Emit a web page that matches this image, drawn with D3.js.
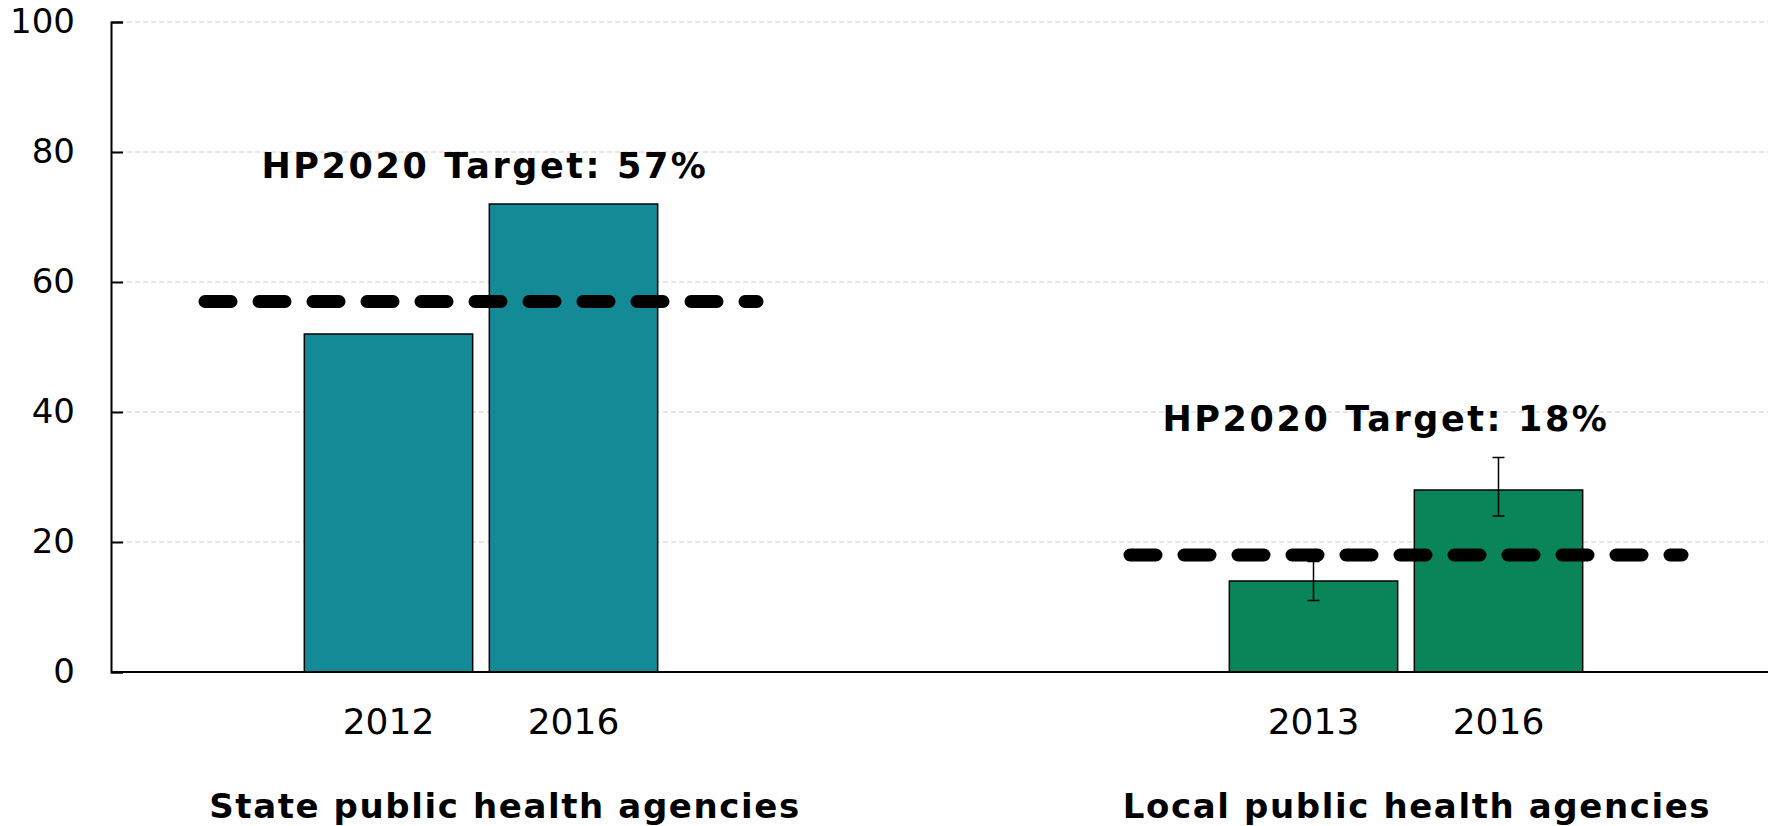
<!DOCTYPE html>
<html>
<head>
<meta charset="utf-8">
<script src="https://cdn.jsdelivr.net/npm/d3@7"></script>
<style>
  body { margin: 0; background: #fff; }
  text { font-family: "DejaVu Sans", Verdana, sans-serif; fill: #000; }
</style>
</head>
<body>
<div id="chart"></div>
<script>
// data
var groups = ["State public health agencies", "Local public health agencies"];
var years = [["2012", "2016"], ["2013", "2016"]];
var values = [[52, 72], [14, 28]];
var errLow = [[null, null], [11, 24]];
var errHigh = [[null, null], [17, 33]];
var targets = [57, 18];
var targetLabels = ["HP2020 Target: 57%", "HP2020 Target: 18%"];
var colors = ["#138A96", "#0A8559"];
var yTicks = [0, 20, 40, 60, 80, 100];

//define svg
var svgWidth = 1777;
var svgHeight = 826;
var margin = { top: 22, bottom: 154, left: 111, right: 9 };
var chartWidth = svgWidth - margin.left - margin.right;
var chartHeight = svgHeight - margin.top - margin.bottom;

var svg = d3.select("#chart")
    .append("svg")
    .attr("width", svgWidth)
    .attr("height", svgHeight);

var chartGroup = svg.append("g")
    .attr("transform", `translate(${margin.left}, ${margin.top})`);

//scales
var yScale = d3.scaleLinear()
    .domain([0, 100])
    .range([chartHeight, 0]);

// group centres
var x0 = d3.scalePoint()
    .domain(groups)
    .range([370, 1295]);

// bars inside a group
var x1 = d3.scaleBand()
    .domain([0, 1])
    .range([-185, 185])
    .paddingInner(0.09)
    .paddingOuter(0.045);

var targetHalf = 283;
var labelDx = [4, -20];
var groupLabelDx = [24, 11];

//gridlines
chartGroup.append("g")
    .selectAll("line")
    .data(yTicks.filter(d => d > 0))
    .enter()
    .append("line")
    .attr("x1", 0)
    .attr("x2", chartWidth)
    .attr("y1", d => yScale(d))
    .attr("y2", d => yScale(d))
    .attr("stroke", "#d0d0d0")
    .attr("stroke-width", 1.2)
    .attr("stroke-dasharray", "5,3");

//bars
groups.forEach(function (g, gi) {
    var gx = x0(g);
    var grp = chartGroup.append("g");
    grp.selectAll("rect")
        .data(values[gi])
        .enter()
        .append("rect")
        .attr("x", (d, i) => gx + x1(i))
        .attr("y", d => yScale(d))
        .attr("width", x1.bandwidth())
        .attr("height", d => chartHeight - yScale(d))
        .attr("fill", colors[gi])
        .attr("stroke", "#000")
        .attr("stroke-width", 1.5);

    // error bars
    values[gi].forEach(function (v, i) {
        if (errLow[gi][i] == null) return;
        var cx = gx + x1(i) + x1.bandwidth() / 2;
        var eb = grp.append("g").attr("stroke", "#000").attr("stroke-width", 1.5);
        eb.append("line")
            .attr("x1", cx).attr("x2", cx)
            .attr("y1", yScale(errLow[gi][i])).attr("y2", yScale(errHigh[gi][i]));
        [errLow[gi][i], errHigh[gi][i]].forEach(function (e) {
            eb.append("line")
                .attr("x1", cx - 6).attr("x2", cx + 6)
                .attr("y1", yScale(e)).attr("y2", yScale(e));
        });
    });

    // year labels
    grp.selectAll(".year")
        .data(years[gi])
        .enter()
        .append("text")
        .attr("x", (d, i) => gx + x1(i) + x1.bandwidth() / 2)
        .attr("y", chartHeight + 62)
        .attr("text-anchor", "middle")
        .style("font-size", "36px")
        .text(d => d);

    // group label
    grp.append("text")
        .attr("x", gx + groupLabelDx[gi])
        .attr("y", chartHeight + 146)
        .attr("text-anchor", "middle")
        .style("font-size", "34px")
        .style("font-weight", "bold")
        .style("letter-spacing", "1.6px")
        .text(g);
});

//axes
chartGroup.append("line")
    .attr("x1", 0).attr("x2", chartWidth)
    .attr("y1", chartHeight).attr("y2", chartHeight)
    .attr("stroke", "#000")
    .attr("stroke-width", 2);

var leftAxis = d3.axisLeft(yScale)
    .tickValues(yTicks)
    .tickSize(-12)
    .tickPadding(36);

var yAxis = chartGroup.append("g")
    .call(leftAxis);
yAxis.select(".domain").attr("stroke-width", 2);
yAxis.selectAll(".tick line").attr("stroke-width", 2);
yAxis.selectAll("text")
    .style("font-size", "34px")
    .style("font-family", "DejaVu Sans, Verdana, sans-serif")
    .attr("fill", "#000");

//target lines
groups.forEach(function (g, gi) {
    var gx = x0(g);
    chartGroup.append("line")
        .attr("x1", gx - targetHalf + 7)
        .attr("x2", gx + targetHalf - 7)
        .attr("y1", yScale(targets[gi]))
        .attr("y2", yScale(targets[gi]))
        .attr("stroke", "#000")
        .attr("stroke-width", 13)
        .attr("stroke-linecap", "round")
        .attr("stroke-dasharray", "26,28");

    chartGroup.append("text")
        .attr("x", gx + labelDx[gi])
        .attr("y", yScale(targets[gi]) - 124)
        .attr("text-anchor", "middle")
        .style("font-size", "35px")
        .style("font-weight", "bold")
        .style("letter-spacing", "2.6px")
        .text(targetLabels[gi]);
});
</script>
</body>
</html>
